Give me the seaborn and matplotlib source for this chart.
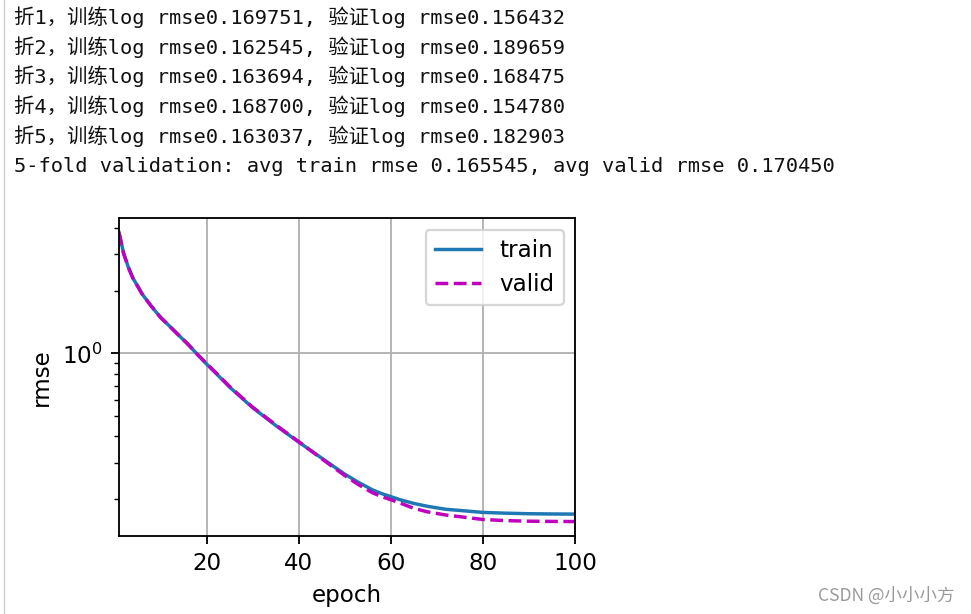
import matplotlib
matplotlib.use("Agg")
import matplotlib.pyplot as plt
from matplotlib.lines import Line2D
from matplotlib.ticker import NullFormatter
import seaborn as sns
import pandas as pd

# ---- data ----
log_lines = [
    "折1，训练log rmse0.169751, 验证log rmse0.156432",
    "折2，训练log rmse0.162545, 验证log rmse0.189659",
    "折3，训练log rmse0.163694, 验证log rmse0.168475",
    "折4，训练log rmse0.168700, 验证log rmse0.154780",
    "折5，训练log rmse0.163037, 验证log rmse0.182903",
    "5-fold validation: avg train rmse 0.165545, avg valid rmse 0.170450",
]
epochs = [1, 2, 3, 4, 5, 6, 8, 10, 12, 14, 16, 18, 20, 22, 25, 30, 35, 40,
          45, 50, 53, 56, 58, 60, 62, 65, 68, 72, 76, 80, 85, 90, 95, 100]
train_rmse = [3.80, 3.02, 2.60, 2.30, 2.11, 1.93, 1.686, 1.49, 1.35, 1.22, 1.105,
              0.99, 0.89, 0.805, 0.69, 0.55, 0.452, 0.376, 0.315, 0.264, 0.241,
              0.222, 0.213, 0.206, 0.199, 0.191, 0.185, 0.179, 0.176, 0.173,
              0.1715, 0.1705, 0.1700, 0.1698]
valid_rmse = [3.80, 3.02, 2.60, 2.30, 2.11, 1.93, 1.686, 1.49, 1.35, 1.22, 1.105,
              0.99, 0.895, 0.81, 0.695, 0.553, 0.455, 0.378, 0.313, 0.260, 0.235,
              0.215, 0.206, 0.199, 0.192, 0.181, 0.174, 0.168, 0.164, 0.160,
              0.158, 0.157, 0.1566, 0.1564]
series_names = ["train", "valid"]
x_label = "epoch"
y_label = "rmse"
watermark = "CSDN @小小小方"

df = pd.DataFrame({"epoch": epochs + epochs,
                   "rmse": train_rmse + valid_rmse,
                   "series": [series_names[0]] * len(epochs) + [series_names[1]] * len(epochs)})

DPI = 165.6
fig = plt.figure(figsize=(971 / DPI, 614 / DPI), dpi=DPI)
fig.patch.set_facecolor("white")

# output-area left border
fig.add_artist(Line2D([3.5 / 971, 3.5 / 971], [0, 1], transform=fig.transFigure,
                      color="#cfcfcf", lw=0.6))

# printed log text
mono = ["DejaVu Sans Mono", "Noto Sans CJK SC"]
for i, line in enumerate(log_lines):
    fig.text(14 / 971, 1 - (17 + i * 29.8) / 614, line, family=mono,
             fontsize=8.9, va="center", ha="left", color="#111111")

ax = fig.add_axes([119 / 971, 1 - 536 / 614, (575 - 119) / 971, (536 - 218) / 614])
sns.lineplot(data=df[df.series == "train"], x="epoch", y="rmse", ax=ax,
             color="#1f77b4", label="train", lw=1.5)
sns.lineplot(data=df[df.series == "valid"], x="epoch", y="rmse", ax=ax,
             color="m", linestyle="--", label="valid", lw=1.5)
ax.set_yscale("log")
ax.set_xlim(1, 100)
ax.set_xlabel(x_label)
ax.set_ylabel(y_label)
ax.yaxis.set_minor_formatter(NullFormatter())
ax.grid(True, which="major", color="#b0b0b0", lw=0.8)
ax.legend(loc="upper right")

fig.text(955 / 971, 1 - 596 / 614, watermark, family=["Noto Sans CJK SC", "DejaVu Sans"],
         fontsize=7.6, color="#9a9a9a", ha="right", va="center")

fig.savefig("out.png", dpi=DPI)
